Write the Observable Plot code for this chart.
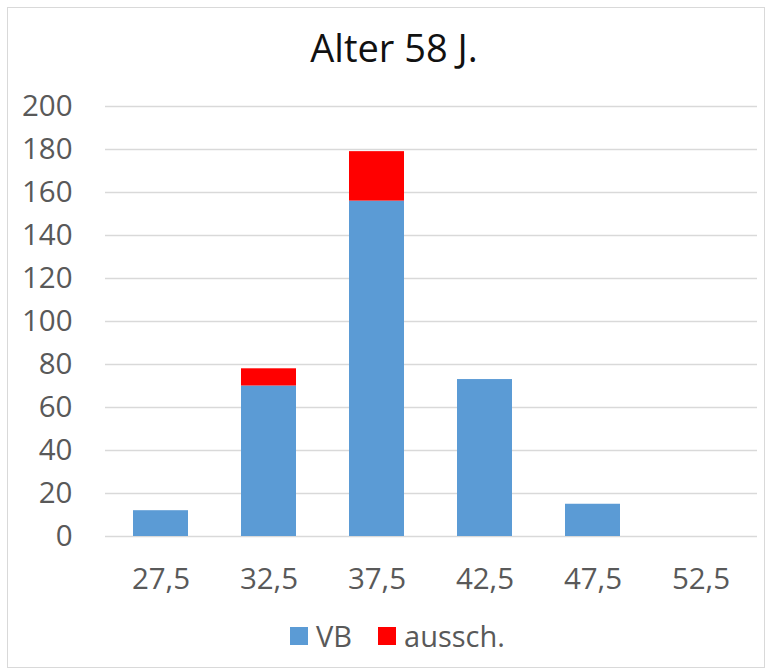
<!DOCTYPE html>
<html><head><meta charset="utf-8">
<script src="https://cdn.jsdelivr.net/npm/d3@7"></script>
<script src="https://cdn.jsdelivr.net/npm/@observablehq/plot@0.6"></script>
<style>
body{margin:0;background:#fff;font-family:"Open Sans",sans-serif;}
#frame{position:absolute;left:7px;top:7px;width:758px;height:661px;border:1px solid #d9d9d9;box-sizing:border-box;}
#title{position:absolute;left:0;width:788px;top:27px;text-align:center;font-size:38px;color:#111;line-height:40px;}
#chart{position:absolute;left:0;top:80px;}
#legend{position:absolute;top:618px;left:290px;display:flex;align-items:center;font-size:29px;color:#595959;line-height:36px;}
.sw{display:inline-block;width:18px;height:18px;margin-right:8px;}
.item{display:flex;align-items:center;margin-right:26px;}
</style></head>
<body>
<div id="frame"></div>
<div id="title">Alter 58 J.</div>
<div id="chart"></div>
<div id="legend"></div>
<script>
const categories = ["27,5","32,5","37,5","42,5","47,5","52,5"];
const seriesNames = ["VB","aussch."];
const seriesColors = ["#5B9BD5","#FF0000"];
const vbValues = [12,70,156,73,15,0];
const ausschValues = [0,8,23,0,0,0];
const yTicks = [0,20,40,60,80,100,120,140,160,180,200];

const data = categories.flatMap((c,i)=>[
  {cat:c, series:seriesNames[0], value:vbValues[i]},
  {cat:c, series:seriesNames[1], value:ausschValues[i]}
]);

const chart = Plot.plot({
  width:769, height:520,
  marginLeft:105, marginRight:12, marginTop:26, marginBottom:64,
  style:{fontFamily:"'Open Sans',sans-serif", fontSize:"29.5px", color:"#595959", background:"transparent"},
  x:{domain:categories, paddingInner:0.49, paddingOuter:0.245, label:null},
  y:{domain:[0,200], label:null},
  color:{domain:seriesNames, range:seriesColors},
  marks:[
    Plot.ruleY(yTicks,{stroke:"#d9d9d9", strokeWidth:1.3}),
    Plot.barY(data,{x:"cat", y:"value", fill:"series"}),
    Plot.axisY(yTicks,{tickSize:0, tickPadding:33, fill:"#595959", fontSize:29.5}),
    Plot.axisX({tickSize:0, tickPadding:32, fill:"#595959", fontSize:29.5})
  ]
});
document.getElementById("chart").appendChild(chart);

const legend = document.getElementById("legend");
seriesNames.forEach((n,i)=>{
  const item = document.createElement("span");
  item.className="item";
  const sw = document.createElement("span");
  sw.className="sw"; sw.style.background=seriesColors[i];
  item.appendChild(sw);
  item.appendChild(document.createTextNode(n));
  legend.appendChild(item);
});
</script>
</body></html>
